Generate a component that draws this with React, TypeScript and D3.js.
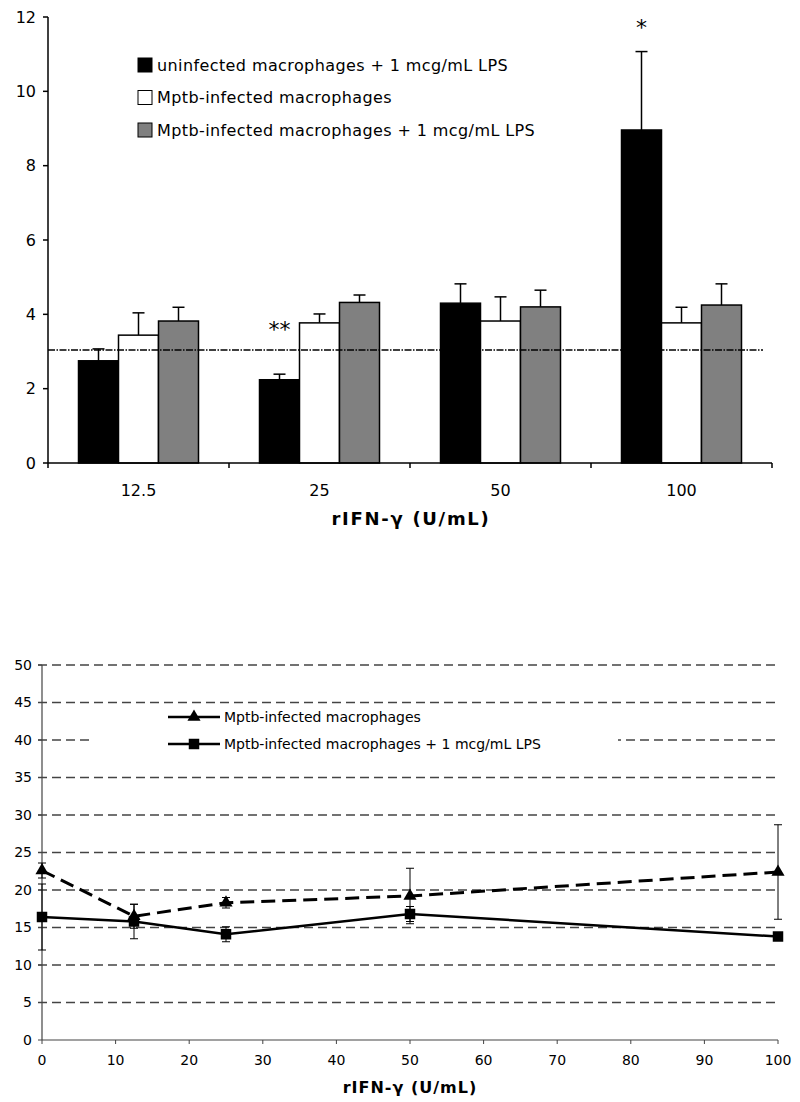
import React from "react";
import * as d3 from "d3";

// top chart: rIFN-gamma dose groups
const doses = ["12.5", "25", "50", "100"];
const uninfectedLps = [2.75, 2.24, 4.3, 8.96];
const uninfectedLpsErr = [0.32, 0.15, 0.52, 2.11];
const infected = [3.44, 3.77, 3.82, 3.77];
const infectedErr = [0.6, 0.24, 0.65, 0.42];
const infectedLps = [3.82, 4.32, 4.2, 4.25];
const infectedLpsErr = [0.37, 0.2, 0.45, 0.57];
const baseline = 3.04;
const topTicks = [0, 2, 4, 6, 8, 10, 12];

// bottom chart
const doseX = [0, 12.5, 25, 50, 100];
const infTri = [22.6, 16.5, 18.3, 19.2, 22.4];
const infTriErr = [1.0, 1.6, 0.7, 3.7, 6.3];
const infLpsSq = [16.4, 15.8, 14.1, 16.8, 13.8];
const infLpsSqErr = [4.4, 2.3, 1.0, 1.0, 0.5];
const botYTicks = [0, 5, 10, 15, 20, 25, 30, 35, 40, 45, 50];
const botXTicks = [0, 10, 20, 30, 40, 50, 60, 70, 80, 90, 100];

const font = "'DejaVu Sans', Verdana, sans-serif";

export default function App() {
  // ---- top bar chart
  const x = d3.scaleBand().domain(doses).range([48, 772]);
  const y = d3.scaleLinear().domain([0, 12]).range([463, 17]);
  const bw = x.bandwidth();
  const sub = d3.scaleBand().domain(["a", "b", "c"]).range([bw / 2 - 60, bw / 2 + 60]);
  const series = [
    { key: "a", vals: uninfectedLps, err: uninfectedLpsErr, fill: "#000", label: "uninfected macrophages + 1 mcg/mL LPS" },
    { key: "b", vals: infected, err: infectedErr, fill: "#fff", label: "Mptb-infected macrophages" },
    { key: "c", vals: infectedLps, err: infectedLpsErr, fill: "#808080", label: "Mptb-infected macrophages + 1 mcg/mL LPS" },
  ];

  // ---- bottom line chart
  const x2 = d3.scaleLinear().domain([0, 100]).range([42, 778]);
  const y2 = d3.scaleLinear().domain([0, 50]).range([1040, 665]);
  const line = d3.line<number>().x((_, i) => x2(doseX[i])).y((d) => y2(d));
  const tri = d3.symbol().type(d3.symbolTriangle).size(75)();
  const sq = d3.symbol().type(d3.symbolSquare).size(110)();

  return (
    <svg width={800} height={1102} style={{ position: "absolute", left: 0, top: 0 }} fontFamily={font}>
      <rect width={800} height={1102} fill="#fff" />
      {/* ---------- TOP ---------- */}
      <g>
        {topTicks.map((t) => (
          <g key={t}>
            <line x1={43} x2={48} y1={y(t)} y2={y(t)} stroke="#000" strokeWidth={1.5} />
            <text x={36} y={y(t)} dy="0.35em" textAnchor="end" fontSize={16}>{t}</text>
          </g>
        ))}
        <line x1={48} x2={48} y1={y(12)} y2={y(0)} stroke="#000" strokeWidth={1.5} />
        {series.map((s) =>
          doses.map((d, i) => {
            const bx = (x(d) as number) + (sub(s.key) as number);
            const cx = bx + sub.bandwidth() / 2;
            return (
              <g key={s.key + d}>
                <line x1={cx} x2={cx} y1={y(s.vals[i])} y2={y(s.vals[i] + s.err[i])} stroke="#000" strokeWidth={1.5} />
                <line x1={cx - 6} x2={cx + 6} y1={y(s.vals[i] + s.err[i])} y2={y(s.vals[i] + s.err[i])} stroke="#000" strokeWidth={1.5} />
                <rect x={bx} y={y(s.vals[i])} width={sub.bandwidth()} height={y(0) - y(s.vals[i])} fill={s.fill} stroke="#000" strokeWidth={1.5} />
              </g>
            );
          })
        )}
        <line x1={48} x2={763} y1={y(baseline)} y2={y(baseline)} stroke="#000" strokeWidth={1.6} strokeDasharray="7,1.5,1.5,1.5" />
        <line x1={48} x2={772} y1={y(0)} y2={y(0)} stroke="#000" strokeWidth={1.5} />
        {[...doses.map((d) => x(d) as number), 772].map((t, i) => (
          <line key={i} x1={t} x2={t} y1={y(0)} y2={y(0) + 5} stroke="#000" strokeWidth={1.5} />
        ))}
        {doses.map((d) => (
          <text key={d} x={(x(d) as number) + bw / 2} y={496} textAnchor="middle" fontSize={16}>{d}</text>
        ))}
        <text x={411} y={525} textAnchor="middle" fontSize={18} fontWeight="bold" letterSpacing={1.7}>rIFN-γ (U/mL)</text>
        <text x={(x("25") as number) + (sub("a") as number) + 20} y={y(3.7) + 12} textAnchor="middle" fontSize={22}>**</text>
        <text x={(x("100") as number) + (sub("a") as number) + 20} y={y(11.85) + 12} textAnchor="middle" fontSize={22}>*</text>
        {series.map((s, i) => (
          <g key={s.key} transform={`translate(138,${65 + i * 32.5})`}>
            <rect x={0} y={-7} width={14} height={14} fill={s.fill} stroke="#000" strokeWidth={1} />
            <text x={19} y={0} dy="0.35em" fontSize={16} letterSpacing={0.4}>{s.label}</text>
          </g>
        ))}
      </g>

      {/* ---------- BOTTOM ---------- */}
      <g>
        {botYTicks.filter((t) => t > 0).map((t) => (
          <line key={t} x1={38} x2={778} y1={y2(t)} y2={y2(t)} stroke="#444" strokeWidth={1.3} strokeDasharray="9,5" />
        ))}
        {botYTicks.map((t) => (
          <g key={t}>
            <line x1={38} x2={42} y1={y2(t)} y2={y2(t)} stroke="#444" strokeWidth={1} />
            <text x={32} y={y2(t)} dy="0.35em" textAnchor="end" fontSize={14}>{t}</text>
          </g>
        ))}
        <line x1={42} x2={42} y1={y2(50)} y2={y2(0)} stroke="#444" strokeWidth={1.2} />
        <line x1={42} x2={778} y1={y2(0)} y2={y2(0)} stroke="#444" strokeWidth={1.2} />
        {botXTicks.map((t) => (
          <g key={t}>
            <line x1={x2(t)} x2={x2(t)} y1={y2(0)} y2={y2(0) + 4} stroke="#444" strokeWidth={1} />
            <text x={x2(t)} y={1060} dy="0.35em" textAnchor="middle" fontSize={14}>{t}</text>
          </g>
        ))}
        <text x={410} y={1093} textAnchor="middle" fontSize={16} fontWeight="bold" letterSpacing={1}>rIFN-γ (U/mL)</text>

        {/* error bars */}
        {[{ v: infTri, e: infTriErr }, { v: infLpsSq, e: infLpsSqErr }].map((s, si) =>
          doseX.map((d, i) => (
            <g key={si + "-" + i} stroke="#000" strokeWidth={1}>
              <line x1={x2(d)} x2={x2(d)} y1={y2(s.v[i] - s.e[i])} y2={y2(s.v[i] + s.e[i])} />
              <line x1={x2(d) - 4} x2={x2(d) + 4} y1={y2(s.v[i] - s.e[i])} y2={y2(s.v[i] - s.e[i])} />
              <line x1={x2(d) - 4} x2={x2(d) + 4} y1={y2(s.v[i] + s.e[i])} y2={y2(s.v[i] + s.e[i])} />
            </g>
          ))
        )}
        <path d={line(infTri) as string} fill="none" stroke="#000" strokeWidth={3} strokeDasharray="14,7" />
        <path d={line(infLpsSq) as string} fill="none" stroke="#000" strokeWidth={2.5} />
        {doseX.map((d, i) => (
          <path key={"t" + i} d={tri as string} transform={`translate(${x2(d)},${y2(infTri[i])})`} fill="#000" />
        ))}
        {doseX.map((d, i) => (
          <path key={"s" + i} d={sq as string} transform={`translate(${x2(d)},${y2(infLpsSq[i])})`} fill="#000" />
        ))}

        {/* legend */}
        <rect x={92} y={706} width={526} height={54} fill="#fff" />
        <g transform="translate(168,717)">
          <line x1={0} x2={52} y1={0} y2={0} stroke="#000" strokeWidth={2.5} />
          <path d={tri as string} transform="translate(26,0)" fill="#000" />
          <text x={56} y={0} dy="0.35em" fontSize={14}>Mptb-infected macrophages</text>
        </g>
        <g transform="translate(168,744)">
          <line x1={0} x2={52} y1={0} y2={0} stroke="#000" strokeWidth={2.5} />
          <path d={sq as string} transform="translate(26,0)" fill="#000" />
          <text x={56} y={0} dy="0.35em" fontSize={14}>Mptb-infected macrophages + 1 mcg/mL LPS</text>
        </g>
      </g>
    </svg>
  );
}
